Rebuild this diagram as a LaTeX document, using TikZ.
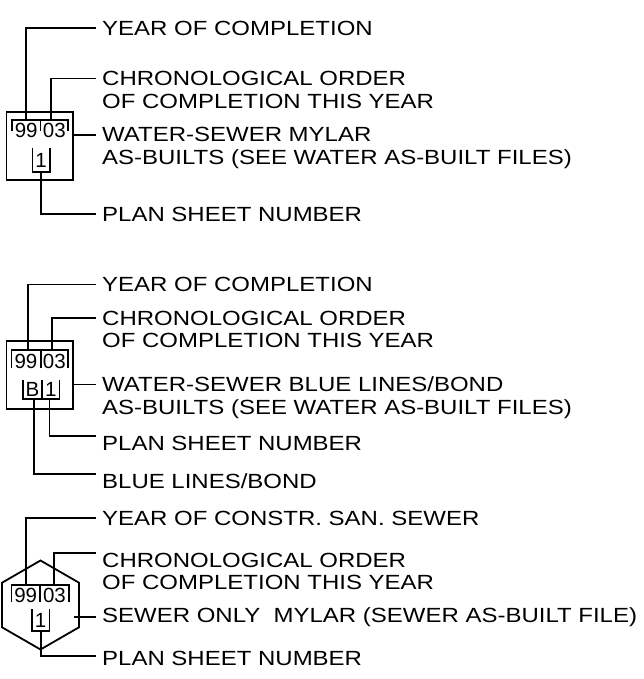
\documentclass[tikz,border=0pt]{standalone}
\usepackage{fontspec}
\setmainfont{Liberation Sans}[FakeStretch=1.17]
\newfontfamily\numfont{Liberation Sans}
\usetikzlibrary{shapes.geometric}
\begin{document}
\begin{tikzpicture}[x=1pt, y=-1pt,
    lbl/.style={anchor=base west, inner sep=0pt, align=left},
    num/.style={inner sep=0pt, font=\numfont\fontsize{20.5}{22.5}\selectfont},
    lead/.style={line width=1.8pt},
    frame/.style={line width=1.8pt},
    hexa/.style={draw, regular polygon, regular polygon sides=6, shape border rotate=30,
      minimum size=89pt, inner sep=0pt, outer sep=0pt, line width=1.8pt},
    font=\fontsize{20.5}{22.5}\selectfont]
  \useasboundingbox (0,0) rectangle (644,679);
  % Block 1: Mylar
  \draw[frame] (6.5,112) rectangle (73,180);
  \draw[frame] (12,131.5) |- (68,120) -- (68,131.5) (40.5,120) -- (40.5,131.5);
  \draw[frame] (32.5,148) |- (49.7,172) -- (49.7,148);
  \node[num] (y99a) at (26.2,130.7) {99};
  \node[num] (o03a) at (54.3,130.7) {03};
  \node[num] (p1a) at (41.1,160) {1};
  \coordinate (sa1) at (26,120);   \coordinate (ea1) at (96,28.4);
  \coordinate (sa2) at (51,120);   \coordinate (ea2) at (96,78.6);
  \coordinate (sa3) at (73,134.7); \coordinate (ea3) at (96,134.7);
  \coordinate (sa4) at (41.1,172); \coordinate (ea4) at (96,214);
  \draw[lead] (sa1) |- (ea1);
  \draw[lead] (sa2) |- (ea2);
  \draw[lead] (sa3) -- (ea3);
  \draw[lead] (sa4) |- (ea4);
  % Beschriftung (Grundlinie der letzten Zeile)
  \node[lbl] (ta1) at (102,35.6) {YEAR OF COMPLETION};
  \node[lbl] (ta2) at (102,108.3) {CHRONOLOGICAL ORDER\\OF COMPLETION THIS YEAR};
  \node[lbl] (ta3) at (102,164.4) {WATER-SEWER MYLAR\\AS-BUILTS (SEE WATER AS-BUILT FILES)};
  \node[lbl] (ta4) at (102,221.2) {PLAN SHEET NUMBER};
  % Block 2: Blue Lines/Bond
  \draw[frame] (6.5,341) rectangle (73,409);
  \draw[frame] (11.4,368) |- (68,350) -- (68,368) (40.6,350) -- (40.6,368);
  \draw[frame] (22.7,379.6) |- (59.4,399) -- (59.4,379.6) (42,379.6) -- (42,399);
  \node[num] (y99b) at (26,361) {99};
  \node[num] (o03b) at (54.3,361) {03};
  \node[num] (bb) at (32.4,389.5) {B};
  \node[num] (p1b) at (50.7,389.5) {1};
  \coordinate (sb1) at (27.6,350);  \coordinate (eb1) at (96,284.5);
  \coordinate (sb2) at (52,350);    \coordinate (eb2) at (96,318);
  \coordinate (sb3) at (73,384.5);  \coordinate (eb3) at (96,384.5);
  \coordinate (sb4) at (49.4,399);  \coordinate (eb4) at (96,436);
  \coordinate (sb5) at (34,399);    \coordinate (eb5) at (96,474);
  \draw[lead] (sb1) |- (eb1);
  \draw[lead] (sb2) |- (eb2);
  \draw[lead] (sb3) -- (eb3);
  \draw[lead] (sb4) |- (eb4);
  \draw[lead] (sb5) |- (eb5);
  \node[lbl] (tb1) at (102,291.7) {YEAR OF COMPLETION};
  \node[lbl] (tb2) at (102,347.7) {CHRONOLOGICAL ORDER\\OF COMPLETION THIS YEAR};
  \node[lbl] (tb3) at (102,414.2) {WATER-SEWER BLUE LINES/BOND\\AS-BUILTS (SEE WATER AS-BUILT FILES)};
  \node[lbl] (tb4) at (102,450.2) {PLAN SHEET NUMBER};
  \node[lbl] (tb5) at (102,488.2) {BLUE LINES/BOND};
  % Block 3: nur Kanal
  \node[hexa] (hex) at (40.5,605) {};
  \draw[frame] (11.4,602) |- (69,585) -- (69,602) (40,585) -- (40,602);
  \draw[frame] (31.8,609) |- (49.4,631) -- (49.4,609);
  \node[num] (y99c) at (25.7,595) {99};
  \node[num] (o03c) at (54.5,595) {03};
  \node[num] (p1c) at (40.6,620) {1};
  \coordinate (sc1) at (26,585);    \coordinate (ec1) at (96,518);
  \coordinate (sc2) at (53.6,585);  \coordinate (ec2) at (96,553);
  \coordinate (sc3) at (74,617);    \coordinate (ec3) at (96,617);
  \coordinate (sc4) at (40.6,631);  \coordinate (ec4) at (96,656);
  \draw[lead] (sc1) |- (ec1);
  \draw[lead] (sc2) |- (ec2);
  \draw[lead] (sc3) -- (ec3);
  \draw[lead] (sc4) |- (ec4);
  \node[lbl] (tc1) at (102,525.2) {YEAR OF CONSTR. SAN. SEWER};
  \node[lbl] (tc2) at (102,589.7) {CHRONOLOGICAL ORDER\\OF COMPLETION THIS YEAR};
  \node[lbl] (tc3) at (102,622.8) {SEWER ONLY\ \ MYLAR (SEWER AS-BUILT FILE)};
  \node[lbl] (tc4) at (102,665.2) {PLAN SHEET NUMBER};
\end{tikzpicture}
\end{document}
